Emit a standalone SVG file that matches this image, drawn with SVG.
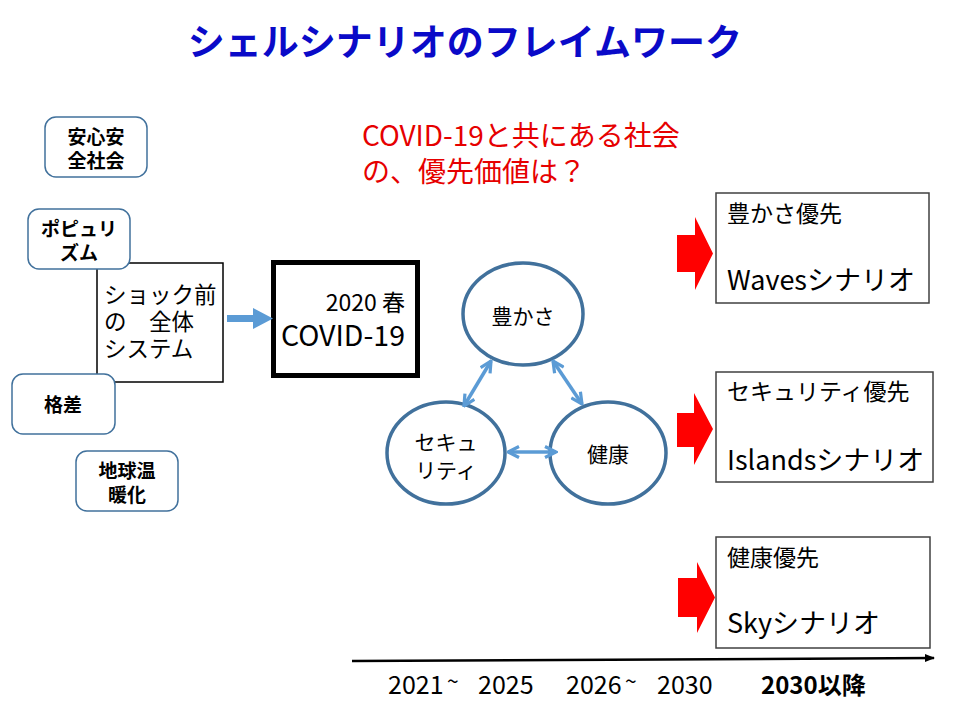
<svg xmlns="http://www.w3.org/2000/svg" width="975" height="724" viewBox="0 0 975 724">
<defs>
<style>
text{font-family:"Noto Sans CJK JP","Liberation Sans",sans-serif;fill:#000}
.title{font-size:37px;font-weight:bold;fill:#0a0ac8}
.red{font-size:28px;fill:#e60000}
.rb{fill:#fff;stroke:#41719c;stroke-width:1.5}
.rbt{font-size:19px;font-weight:bold;text-anchor:middle}
.circ{fill:#fff;stroke:#41719c;stroke-width:3.5}
.ct{font-size:21px;text-anchor:middle}
.sb{fill:#fff;stroke:#404040;stroke-width:1.5}
.st{font-size:23px}
.sn{font-size:27px}
.tl{font-size:25px}
.tld{font-size:21px}
.pre{font-size:22.5px}
.dbl{stroke:#5b9bd5;stroke-width:3.5;fill:none;marker-start:url(#chev);marker-end:url(#chev)}
.redarr{fill:#ff0000}
</style>
<marker id="chev" viewBox="0 0 14 14" refX="12.5" refY="7" markerWidth="14" markerHeight="14" markerUnits="userSpaceOnUse" orient="auto-start-reverse">
<path d="M1.5,1.5 L12.5,7 L1.5,12.5" fill="none" stroke="#5b9bd5" stroke-width="3.2" stroke-linejoin="miter"/>
</marker>
<marker id="tip" viewBox="0 0 10 10" refX="9" refY="5" markerWidth="10" markerHeight="10" markerUnits="userSpaceOnUse" orient="auto">
<path d="M0,1 L10,5 L0,9 Z" fill="#000"/>
</marker>
</defs>
<rect width="975" height="724" fill="#fff"/>

<text class="title" x="465" y="56" text-anchor="middle">シェルシナリオのフレイムワーク</text>

<g id="question">
<text class="red" x="362" y="146">COVID-19と共にある社会</text>
<text class="red" x="362" y="182">の、優先価値は？</text>
</g>

<g id="pre-shock">
<rect x="97" y="263" width="126" height="119" fill="#fff" stroke="#000" stroke-width="1.5"/>
<text class="pre" x="104" y="303">ショック前</text>
<text class="pre" x="104" y="330">の　全体</text>
<text class="pre" x="104" y="357">システム</text>
</g>

<g id="anshin">
<rect class="rb" x="45" y="117" width="102" height="60" rx="11"/>
<text class="rbt" x="96" y="144">安心安</text>
<text class="rbt" x="96" y="168">全社会</text>
</g>
<g id="populism">
<rect class="rb" x="28" y="209" width="102" height="60" rx="11"/>
<text class="rbt" x="79" y="236">ポピュリ</text>
<text class="rbt" x="79" y="260">ズム</text>
</g>
<g id="kakusa">
<rect class="rb" x="12" y="374" width="103" height="60" rx="11"/>
<text class="rbt" x="63" y="412">格差</text>
</g>
<g id="ondanka">
<rect class="rb" x="76" y="451" width="102" height="60" rx="11"/>
<text class="rbt" x="127" y="478">地球温</text>
<text class="rbt" x="127" y="502">暖化</text>
</g>

<g id="covid">
<rect x="273.5" y="262.5" width="144" height="113" fill="#fff" stroke="#000" stroke-width="5"/>
<text style="font-size:23px" x="405" y="311" text-anchor="end">2020 春</text>
<text style="font-size:28.5px" x="405" y="346" text-anchor="end">COVID-19</text>
</g>

<g id="yutakasa">
<ellipse class="circ" cx="523" cy="314" rx="60" ry="51"/>
<text class="ct" x="523" y="324">豊かさ</text>
</g>
<g id="security">
<ellipse class="circ" cx="446" cy="453" rx="59" ry="51"/>
<text class="ct" x="446" y="450">セキュ</text>
<text class="ct" x="446" y="478">リティ</text>
</g>
<g id="kenko">
<ellipse class="circ" cx="608" cy="453" rx="58" ry="51"/>
<text class="ct" x="608" y="462">健康</text>
</g>

<g id="waves">
<rect class="sb" x="716" y="193" width="213" height="110"/>
<text class="st" x="727" y="222">豊かさ優先</text>
<text class="sn" x="727" y="290">Wavesシナリオ</text>
</g>
<g id="islands">
<rect class="sb" x="716" y="372" width="217" height="110"/>
<text class="st" x="727" y="400">セキュリティ優先</text>
<text class="sn" x="727" y="470">Islandsシナリオ</text>
</g>
<g id="sky">
<rect class="sb" x="716" y="537" width="214" height="111"/>
<text class="st" x="727" y="566">健康優先</text>
<text class="sn" x="727" y="633">Skyシナリオ</text>
</g>

<g id="connectors">
<path d="M227,315 H253 V308 L273,318.5 L253,329 V322 H227 Z" fill="#5b9bd5"/>
<line class="dbl" x1="491" y1="361" x2="464" y2="406"/>
<line class="dbl" x1="553" y1="361" x2="582" y2="404"/>
<line class="dbl" x1="508" y1="452" x2="556" y2="452"/>
<path class="redarr" d="M677,235 H695 V217 L713,253.5 L695,290 V272 H677 Z"/>
<path class="redarr" d="M677,413 H694 V393 L713,429 L694,465 V447 H677 Z"/>
<path class="redarr" d="M678,578 H697 V562 L715,597.5 L697,633 V617 H678 Z"/>
<line x1="352" y1="661" x2="934" y2="658" stroke="#000" stroke-width="2.5" marker-end="url(#tip)"/>
</g>

<g id="timeline">
<text class="tl" x="388" y="694">2021</text>
<text class="tld" x="447" y="689">~</text>
<text class="tl" x="478" y="694">2025</text>
<text class="tl" x="566" y="694">2026</text>
<text class="tld" x="625" y="689">~</text>
<text class="tl" x="657" y="694">2030</text>
<text class="tl" x="761" y="694" font-weight="bold" style="font-size:24px">2030以降</text>
</g>
</svg>
